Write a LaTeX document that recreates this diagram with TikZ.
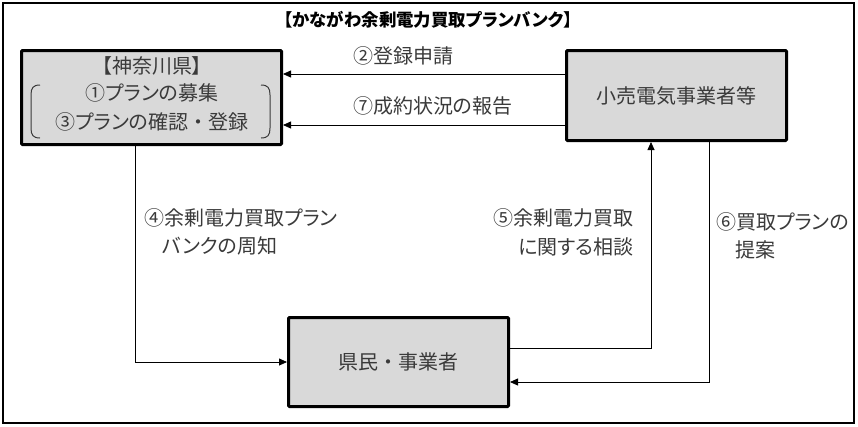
\documentclass[tikz,border=0pt]{standalone}
\usepackage{fontspec}
\setmainfont{Noto Sans CJK JP}[RawFeature=+palt]
\newfontfamily\fullw{Noto Sans CJK JP}
\newcommand{\ndot}{{\fullw ・}}
\usetikzlibrary{arrows.meta}
\definecolor{boxgray}{HTML}{D9D9D9}
\definecolor{txtgray}{HTML}{3A3A3A}
\begin{document}
\begin{tikzpicture}[x=1pt,y=-1pt,
  box/.style={draw=black,line width=3pt,fill=boxgray,rounded corners=1pt,inner sep=0pt},
  lbl/.style={inner sep=0pt,text=txtgray,font=\fontsize{20}{22}\selectfont},
  arr/.style={line width=0.8pt,-{Triangle[length=8pt,width=7pt]}},
  ln/.style={line width=0.8pt}]
\useasboundingbox (0,0) rectangle (858,426);
\draw[line width=2.5pt] (3,3) rectangle (854,423);
\node[inner sep=0pt,font=\bfseries\fontsize{17.4}{20}\selectfont] (title) at (428,20) {【かながわ余剰電力買取プランバンク】};
% boxes
\node[box,minimum width=260pt,minimum height=94pt] (ken) at (151.5,97.5) {};
\node[box,minimum width=220pt,minimum height=90pt] (sho) at (676.5,95.5) {};
\node[box,minimum width=220pt,minimum height=89pt] (min) at (398.5,362) {};
% texts in boxes
\node[lbl] (t1) at (152,66) {【神奈川県】};
\node[lbl] (t2) at (152,93) {①プランの募集};
\node[lbl] (t3) at (152,122) {③プランの確認\ndot 登録};
\node[lbl] (t4) at (sho.center) {小売電気事業者等};
\node[lbl] (t5) at (min.center) {県民\ndot 事業者};
% brackets
\draw[line width=1pt,txtgray] (40,85) .. controls (33,85) and (31,88) .. (31,95) -- (31,128) .. controls (31,135) and (33,138) .. (40,138);
\draw[line width=1pt,txtgray] (261,85) .. controls (268,85) and (270,88) .. (270,95) -- (270,128) .. controls (270,135) and (268,138) .. (261,138);
% connectors
\draw[arr] (sho.west |- 0,74) -- (ken.east |- 0,74);
\draw[arr] (sho.west |- 0,125) -- (ken.east |- 0,125);
\coordinate (c4) at (135,362);
\draw[arr] (ken.south -| c4) -- (c4) -- (min.west);
\coordinate (c5) at (651,348);
\draw[arr] (min.east |- c5) -- (c5) -- (sho.south -| c5);
\coordinate (c6) at (709,382);
\draw[arr] (sho.south -| c6) -- (c6) -- (min.east |- c6);
% labels
\node[lbl,anchor=west] (l2) at (353,56) {②登録申請};
\node[lbl,anchor=west] (l7) at (353,106) {⑦成約状況の報告};
\node[lbl,anchor=west] (l4a) at (144,218) {④余剰電力買取プラン};
\node[lbl,anchor=west] (l4b) at (162,246) {バンクの周知};
\node[lbl,anchor=east] (l5a) at (634,218) {⑤余剰電力買取};
\node[lbl,anchor=east] (l5b) at (634,247) {に関する相談};
\node[lbl,anchor=west] (l6a) at (716,222) {⑥買取プランの};
\node[lbl,anchor=west] (l6b) at (735,250) {提案};
\end{tikzpicture}
\end{document}
